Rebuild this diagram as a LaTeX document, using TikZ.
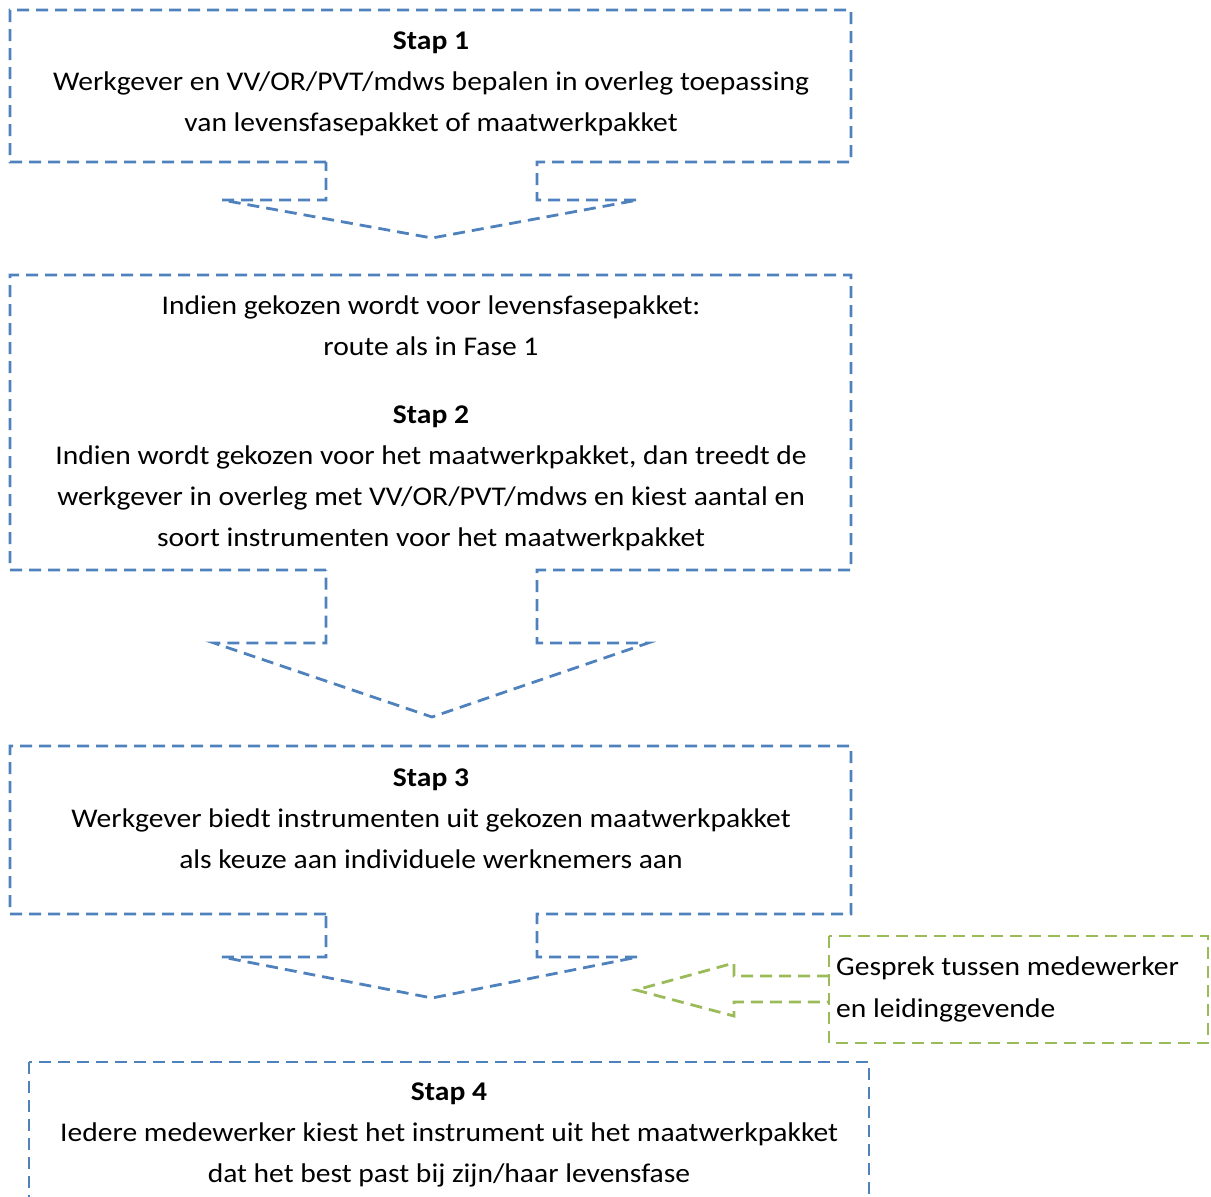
\documentclass[tikz,border=0pt]{standalone}
\usepackage{fontspec}
\setmainfont[FakeStretch=1.095]{Carlito}
\definecolor{ofblue}{HTML}{4F81BD}
\definecolor{ofgreen}{HTML}{9BBB59}
\begin{document}
\begin{tikzpicture}[x=1pt,y=-1pt,
  bluebox/.style={draw=ofblue,line width=2.8pt,dash pattern=on 12pt off 7pt,line join=miter},
  greenbox/.style={draw=ofgreen,line width=2.8pt,dash pattern=on 12pt off 7pt},
  txt/.style={anchor=base,inner sep=0pt,font=\fontsize{27}{32}\selectfont},
  bold/.style={txt,font=\fontsize{27}{32}\selectfont\bfseries},
  ltxt/.style={anchor=base west,inner sep=0pt,font=\fontsize{27}{32}\selectfont}]
\useasboundingbox (0,0) rectangle (1211,1197);
\clip (0,0) rectangle (1211,1197);
% Box 1 with down arrow
\draw[bluebox] (326,162) -- (10,162) -- (10,10) -- (851,10) -- (851,162) -- (537,162) -- (537,200) -- (638,200) -- (432,238) -- (222,200) -- (326,200) -- cycle;
\node[bold] (s1) at (431,49) {Stap 1};
\node[txt] (s1a) at (431,90) {Werkgever en VV/OR/PVT/mdws bepalen in overleg toepassing};
\node[txt] (s1b) at (431,131) {van levensfasepakket of maatwerkpakket};
% Box 2
\draw[bluebox] (326,570) -- (10,570) -- (10,275) -- (851,275) -- (851,570) -- (537,570) -- (537,643) -- (648,643) -- (432,717) -- (214,643) -- (326,643) -- cycle;
\node[txt] (s2a) at (431,314) {Indien gekozen wordt voor levensfasepakket:};
\node[txt] (s2b) at (431,355) {route als in Fase 1};
\node[bold] (s2) at (431,423) {Stap 2};
\node[txt] (s2c) at (431,464) {Indien wordt gekozen voor het maatwerkpakket, dan treedt de};
\node[txt] (s2d) at (431,505) {werkgever in overleg met VV/OR/PVT/mdws en kiest aantal en};
\node[txt] (s2e) at (431,546) {soort instrumenten voor het maatwerkpakket};
% Box 3
\draw[bluebox] (326,914) -- (10,914) -- (10,746) -- (851,746) -- (851,914) -- (537,914) -- (537,957) -- (638,957) -- (432,998) -- (222,957) -- (326,957) -- cycle;
\node[bold] (s3) at (431,786) {Stap 3};
\node[txt] (s3a) at (431,827) {Werkgever biedt instrumenten uit gekozen maatwerkpakket};
\node[txt] (s3b) at (431,868) {als keuze aan individuele werknemers aan};
% Green callout
\draw[greenbox] (829,936) rectangle (1208,1043);
\draw[greenbox] (829,976) -- (734,976) -- (734,963) -- (636,990) -- (734,1016) -- (734,1002) -- (829,1002);
\node[ltxt] (g1) at (836,975) {Gesprek tussen medewerker};
\node[ltxt] (g2) at (836,1017) {en leidinggevende};
% Box 4
\draw[bluebox] (29,1062) rectangle (869,1240);
\node[bold] (s4) at (449,1100) {Stap 4};
\node[txt] (s4a) at (449,1141) {Iedere medewerker kiest het instrument uit het maatwerkpakket};
\node[txt] (s4b) at (449,1182) {dat het best past bij zijn/haar levensfase};
\end{tikzpicture}
\end{document}
